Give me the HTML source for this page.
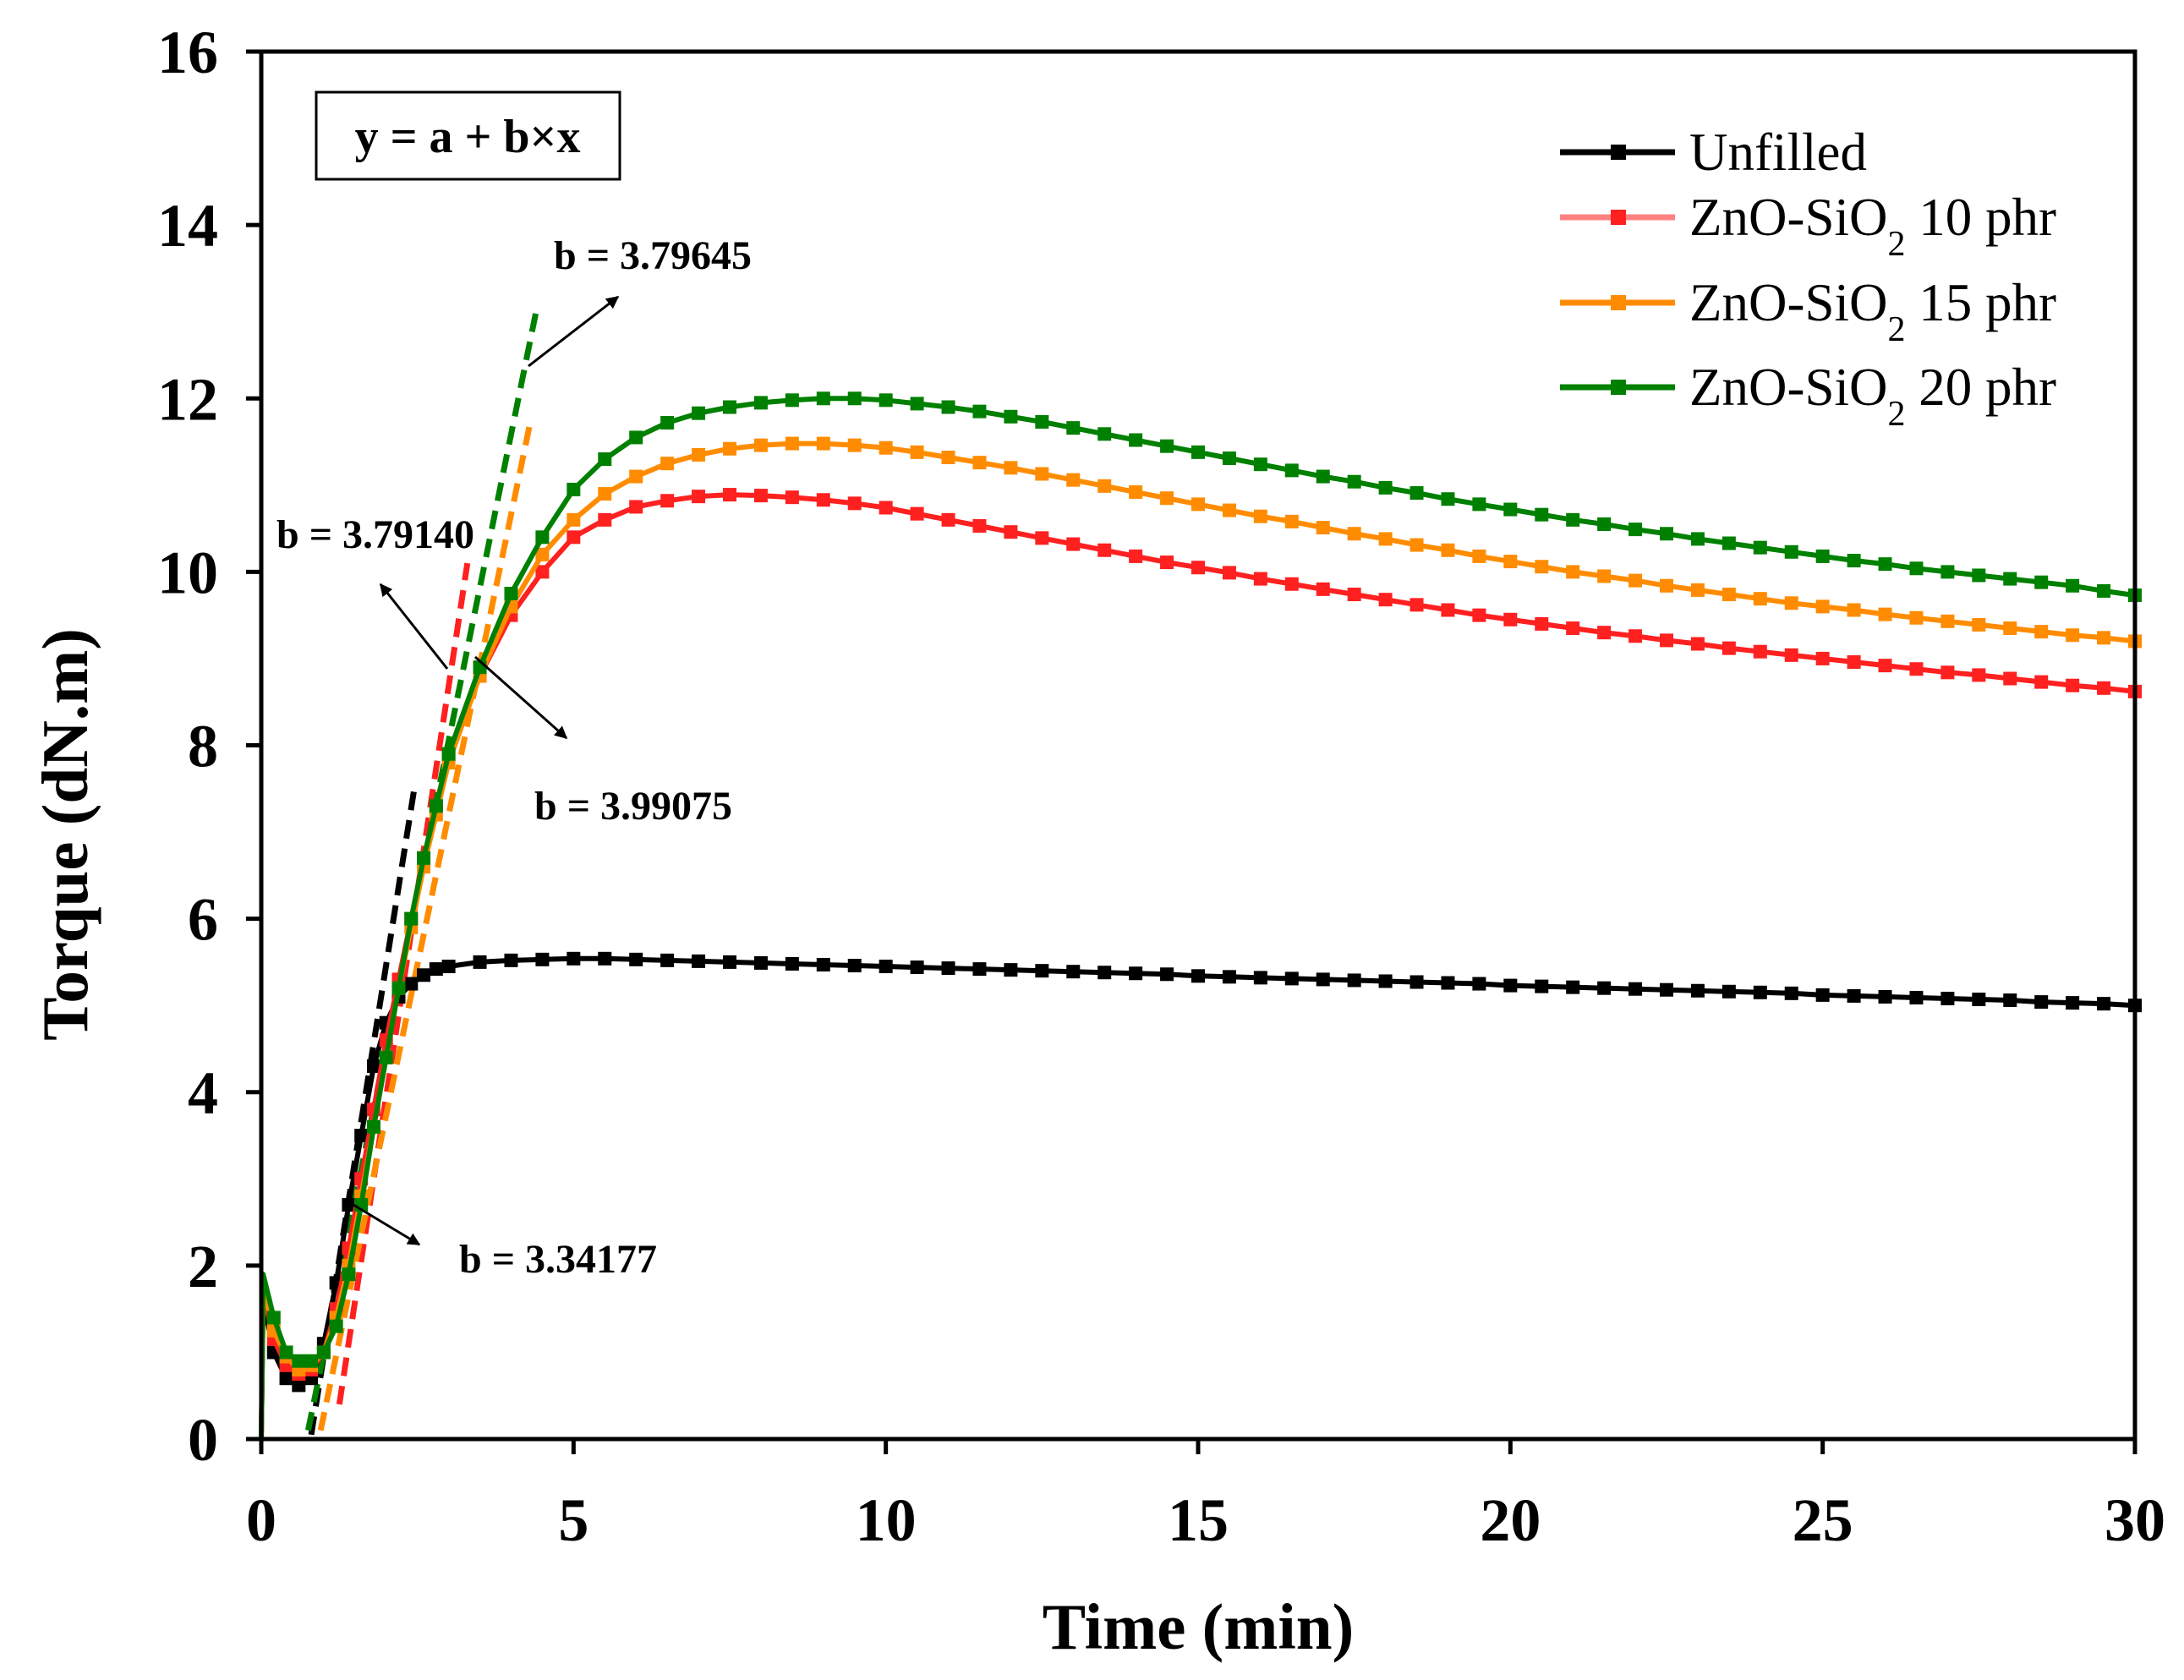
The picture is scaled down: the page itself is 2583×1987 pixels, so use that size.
<!DOCTYPE html>
<html><head><meta charset="utf-8"><style>
html,body{margin:0;padding:0;background:#fff;}
svg{display:block;}
text{font-family:"Liberation Serif",serif;}
</style></head><body>
<svg id="chart" width="2583" height="1987" viewBox="0 0 2583 1987" xmlns="http://www.w3.org/2000/svg">
<g id="plot"></g>
</svg>
<script>
const xTicks=[0,5,10,15,20,25,30];
const yTicks=[0,2,4,6,8,10,12,14,16];
const seriesNames=["Unfilled","ZnO-SiO2 10 phr","ZnO-SiO2 15 phr","ZnO-SiO2 20 phr"];
const timeEarly=[0,0.03,0.2,0.4,0.6,0.8,1.0,1.2,1.4,1.6,1.8,2.0,2.2,2.4,2.6,2.8,3.0,3.5,4.0,4.5,5.0,5.5,6.0,6.5,7.0,7.5,8.0,8.5,9.0,9.5,10.0,10.5,11,11.5,12,12.5,13,13.5,14,14.5,15,15.5,16,16.5,17,17.5,18,18.5,19,19.5,20,20.5,21,21.5,22,22.5,23,23.5,24,24.5,25,25.5,26,26.5,27,27.5,28,28.5,29,29.5,30];
const unfilled=[0,1.6,1.0,0.7,0.62,0.7,1.1,1.8,2.7,3.5,4.3,4.8,5.1,5.25,5.35,5.42,5.45,5.5,5.52,5.53,5.54,5.54,5.53,5.52,5.51,5.5,5.49,5.48,5.47,5.46,5.45,5.44,5.43,5.42,5.41,5.4,5.39,5.38,5.37,5.36,5.34,5.33,5.32,5.31,5.3,5.29,5.28,5.27,5.26,5.25,5.23,5.22,5.21,5.2,5.19,5.18,5.17,5.16,5.15,5.14,5.12,5.11,5.1,5.09,5.08,5.07,5.06,5.04,5.03,5.02,5.0];
const phr10=[0,1.7,1.15,0.85,0.75,0.8,1.0,1.5,2.2,3.0,3.8,4.6,5.3,6.0,6.7,7.3,7.9,8.8,9.5,10.0,10.4,10.6,10.75,10.82,10.87,10.89,10.88,10.86,10.83,10.79,10.74,10.67,10.6,10.53,10.46,10.39,10.32,10.25,10.18,10.11,10.05,9.99,9.92,9.86,9.8,9.74,9.68,9.62,9.56,9.5,9.45,9.4,9.35,9.3,9.26,9.21,9.17,9.12,9.08,9.04,9.0,8.96,8.92,8.88,8.84,8.81,8.77,8.73,8.69,8.66,8.62];
const phr15=[0,1.75,1.25,0.95,0.8,0.85,1.0,1.4,2.0,2.8,3.6,4.4,5.2,5.9,6.6,7.2,7.8,8.8,9.6,10.2,10.6,10.9,11.1,11.25,11.35,11.42,11.46,11.48,11.48,11.46,11.43,11.38,11.32,11.26,11.2,11.13,11.06,10.99,10.92,10.85,10.78,10.71,10.64,10.58,10.51,10.44,10.38,10.31,10.25,10.18,10.12,10.06,10.0,9.95,9.9,9.84,9.79,9.74,9.69,9.64,9.6,9.56,9.51,9.47,9.43,9.39,9.35,9.31,9.27,9.24,9.2];
const phr20=[0,1.9,1.4,1.0,0.9,0.9,1.0,1.3,1.9,2.7,3.6,4.4,5.2,6.0,6.7,7.3,7.9,8.9,9.75,10.4,10.95,11.3,11.55,11.72,11.83,11.9,11.95,11.98,12.0,12.0,11.98,11.94,11.9,11.85,11.79,11.73,11.66,11.59,11.52,11.45,11.38,11.31,11.24,11.17,11.1,11.04,10.97,10.91,10.84,10.78,10.72,10.66,10.6,10.55,10.49,10.44,10.38,10.33,10.28,10.23,10.18,10.13,10.09,10.04,10.0,9.96,9.92,9.88,9.84,9.78,9.73];
const fitX0=[0.8,1.25,0.95,0.75];
const fitY0=[0.05,0.4,0.1,0.1];
const fitX1=[2.45,3.3,4.3,4.4];
const fitY1=[7.5,10.1,11.7,13.0];

const L=309,R=2525,T=61,B=1702;
const sx=v=>L+(v-0)/(30-0)*(R-L);
const sy=v=>B-(v-0)/(16-0)*(B-T);
const NS="http://www.w3.org/2000/svg";
const g=document.getElementById('plot');
function mk(tag,attrs,parent){const e=document.createElementNS(NS,tag);for(const k in attrs)e.setAttribute(k,attrs[k]);(parent||g).appendChild(e);return e;}

const lineColors=["#000000","#ff2020","#ff8c00","#008000"];
const legendLineColors=["#000000","#ff8080","#ff8c00","#008000"];
const dataSets=[unfilled,phr10,phr15,phr20];

// fit lines (dashed) behind
for(let i=0;i<4;i++){
  const fl=mk('line',{x1:sx(fitX0[i]),y1:sy(fitY0[i]),x2:sx(fitX1[i]),y2:sy(fitY1[i]),stroke:lineColors[i],'stroke-width':7,'stroke-dasharray':'22 12'});
  
  
}
// series
for(let i=0;i<4;i++){
  const sg=mk('g',{});
  
  
  const d=dataSets[i].map((v,j)=>(j?'L':'M')+sx(timeEarly[j]).toFixed(1)+' '+sy(v).toFixed(1)).join(' ');
  const p=mk('path',{d:d,fill:'none',stroke:lineColors[i],'stroke-width':6,'stroke-linejoin':'round'},sg);
  
  
  dataSets[i].forEach((v,j)=>{
    if(j<2)return;
    const m=mk('rect',{x:sx(timeEarly[j])-8,y:sy(v)-8,width:16,height:16,fill:lineColors[i]},sg);
    
    
  });
}
// axes frame
const fr=mk('rect',{x:L,y:T,width:R-L,height:B-T,fill:'none',stroke:'#000','stroke-width':5});


xTicks.forEach(v=>{
  const t=mk('line',{x1:sx(v),y1:B,x2:sx(v),y2:B+18,stroke:'#000','stroke-width':5});
  
  
  const tx=mk('text',{x:sx(v),y:1822,'text-anchor':'middle','font-size':72,'font-weight':'bold'});
  tx.textContent=v;
  
  
});
yTicks.forEach(v=>{
  const t=mk('line',{x1:L-18,y1:sy(v),x2:L,y2:sy(v),stroke:'#000','stroke-width':5});
  
  
  const tx=mk('text',{x:258,y:sy(v)+25,'text-anchor':'end','font-size':72,'font-weight':'bold'});
  tx.textContent=v;
  
  
});
// legend
const legY=[180,257,358,458];
for(let i=0;i<4;i++){
  const lg=mk('g',{});
  
  
  mk('line',{x1:1845,y1:legY[i],x2:1981,y2:legY[i],stroke:legendLineColors[i],'stroke-width':7},lg);
  mk('rect',{x:1905,y:legY[i]-9,width:18,height:18,fill:lineColors[i]},lg);
  const tx=mk('text',{x:1998,y:legY[i]+21,'font-size':63},lg);
  if(i==0){tx.textContent='Unfilled';}
  else{
    const parts=seriesNames[i].split('SiO2');
    tx.appendChild(document.createTextNode(parts[0]+'SiO'));
    const sub=mk('tspan',{dy:24,'font-size':42},tx);sub.textContent='2';
    const rest=mk('tspan',{dy:-24},tx);rest.textContent=parts[1];
  }
}
</script>
<svg style="position:absolute;left:0;top:0" width="2583" height="1987" viewBox="0 0 2583 1987" xmlns="http://www.w3.org/2000/svg">
<defs><marker id="ah" viewBox="0 0 10 10" refX="9" refY="5" markerWidth="5" markerHeight="5" orient="auto"><path d="M0,0 L10,5 L0,10 z" fill="#000"/></marker></defs>
<rect x="374" y="109" width="359" height="103" fill="#fff" stroke="#000" stroke-width="3"/>
<text x="553" y="180" text-anchor="middle" font-size="56" font-weight="bold" font-family="Liberation Serif, serif">y = a + b×x</text>
<text x="655" y="318" font-size="48" font-weight="bold" font-family="Liberation Serif, serif">b = 3.79645</text>
<line x1="625" y1="433" x2="731" y2="351" stroke="#000" stroke-width="3" marker-end="url(#ah)"/>
<text x="327" y="648" font-size="48" font-weight="bold" font-family="Liberation Serif, serif">b = 3.79140</text>
<line x1="529" y1="791" x2="450" y2="691" stroke="#000" stroke-width="3" marker-end="url(#ah)"/>
<line x1="562" y1="777" x2="670" y2="873" stroke="#000" stroke-width="3" marker-end="url(#ah)"/>
<text x="632" y="969" font-size="48" font-weight="bold" font-family="Liberation Serif, serif">b = 3.99075</text>
<line x1="413" y1="1422" x2="496" y2="1472" stroke="#000" stroke-width="3" marker-end="url(#ah)"/>
<text x="543" y="1505" font-size="48" font-weight="bold" font-family="Liberation Serif, serif">b = 3.34177</text>
<text x="1417" y="1950" text-anchor="middle" font-size="77" font-weight="bold" font-family="Liberation Serif, serif">Time (min)</text>
<text transform="translate(103,987) rotate(-90)" text-anchor="middle" font-size="77" font-weight="bold" font-family="Liberation Serif, serif">Torque (dN.m)</text>
</svg>
</body></html>
